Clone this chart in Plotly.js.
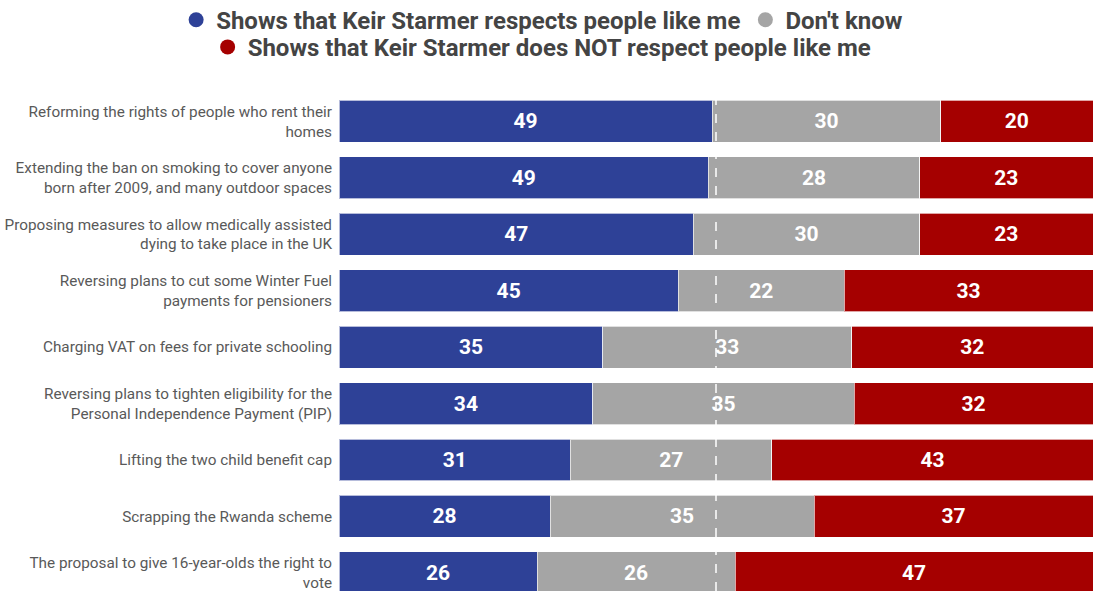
<!DOCTYPE html>
<html>
<head>
<meta charset="utf-8">
<script src="https://cdn.plot.ly/plotly-3.0.1.min.js"></script>
<style>html,body{margin:0;padding:0;background:#fff;}#chart{width:1093px;height:591px;}</style>
</head>
<body>
<div id="chart"></div>
<script>
const categories = [
  "Reforming the rights of people who rent their<br>homes",
  "Extending the ban on smoking to cover anyone<br>born after 2009, and many outdoor spaces",
  "Proposing measures to allow medically assisted<br>dying to take place in the UK",
  "Reversing plans to cut some Winter Fuel<br>payments for pensioners",
  "Charging VAT on fees for private schooling",
  "Reversing plans to tighten eligibility for the<br>Personal Independence Payment (PIP)",
  "Lifting the two child benefit cap",
  "Scrapping the Rwanda scheme",
  "The proposal to give 16-year-olds the right to<br>vote"
];
const respects    = [49, 49, 47, 45, 35, 34, 31, 28, 26];
const dontKnow    = [30, 28, 30, 22, 33, 35, 27, 35, 26];
const notRespects = [20, 23, 23, 33, 32, 32, 43, 37, 47];
const seriesNames = [
  "Shows that Keir Starmer respects people like me",
  "Don't know",
  "Shows that Keir Starmer does NOT respect people like me"
];
const colors = ["#2E4197", "#A5A5A5", "#A50000"];
const series = [respects, dontKnow, notRespects];

const traces = series.map((vals, i) => ({
  type: "bar",
  orientation: "h",
  y: categories,
  x: vals,
  text: vals.map(String),
  texttemplate: "%{text}",
  textposition: "inside",
  insidetextanchor: "middle",
  constraintext: "none",
  textfont: {family: "Roboto", size: 21, color: "#ffffff", weight: "bold"},
  marker: {color: colors[i], line: {color: "rgba(255,255,255,0.65)", width: 1}},
  name: seriesNames[i],
  showlegend: false,
  hoverinfo: "x+y"
}));

const legendTraces = seriesNames.map((n, i) => ({
  type: "scatter",
  mode: "markers",
  x: [null], y: [null],
  name: n,
  marker: {color: colors[i], size: 15, symbol: "circle"},
  legend: i < 2 ? "legend" : "legend2",
  showlegend: true,
  hoverinfo: "skip"
}));

const legendFont = {family: "Roboto", size: 24, color: "#444444", weight: "bold"};

const layout = {
  width: 1093, height: 591,
  margin: {l: 339, r: 0, t: 93, b: 0, pad: 0},
  paper_bgcolor: "#ffffff",
  plot_bgcolor: "#ffffff",
  barmode: "stack",
  barnorm: "percent",
  bargap: 0.257,
  showlegend: true,
  xaxis: {range: [0, 100], visible: false, fixedrange: true},
  yaxis: {
    type: "category",
    range: [8.32, -0.5],
    autorange: false,
    ticks: "",
    showgrid: false,
    zeroline: false,
    showline: false,
    ticklabelstandoff: 6,
    tickfont: {family: "Roboto", size: 15.3, color: "#595959"}
  },
  legend: {
    orientation: "h",
    traceorder: "normal",
    x: 0.496, xanchor: "center", xref: "container",
    y: 0.966, yanchor: "middle", yref: "container",
    font: legendFont,
    itemclick: false, itemdoubleclick: false,
    bgcolor: "rgba(0,0,0,0)"
  },
  legend2: {
    orientation: "h",
    traceorder: "normal",
    x: 0.496, xanchor: "center", xref: "container",
    y: 0.920, yanchor: "middle", yref: "container",
    font: legendFont,
    itemclick: false, itemdoubleclick: false,
    bgcolor: "rgba(0,0,0,0)"
  },
  shapes: [{
    type: "line", xref: "x", yref: "paper",
    x0: 50, x1: 50, y0: 0, y1: 1,
    line: {color: "#ffffff", width: 1.5, dash: "dash"},
    layer: "above"
  }],
  font: {family: "Roboto"}
};

Plotly.newPlot("chart", traces.concat(legendTraces), layout, {displayModeBar: false, staticPlot: true});
</script>
</body>
</html>
